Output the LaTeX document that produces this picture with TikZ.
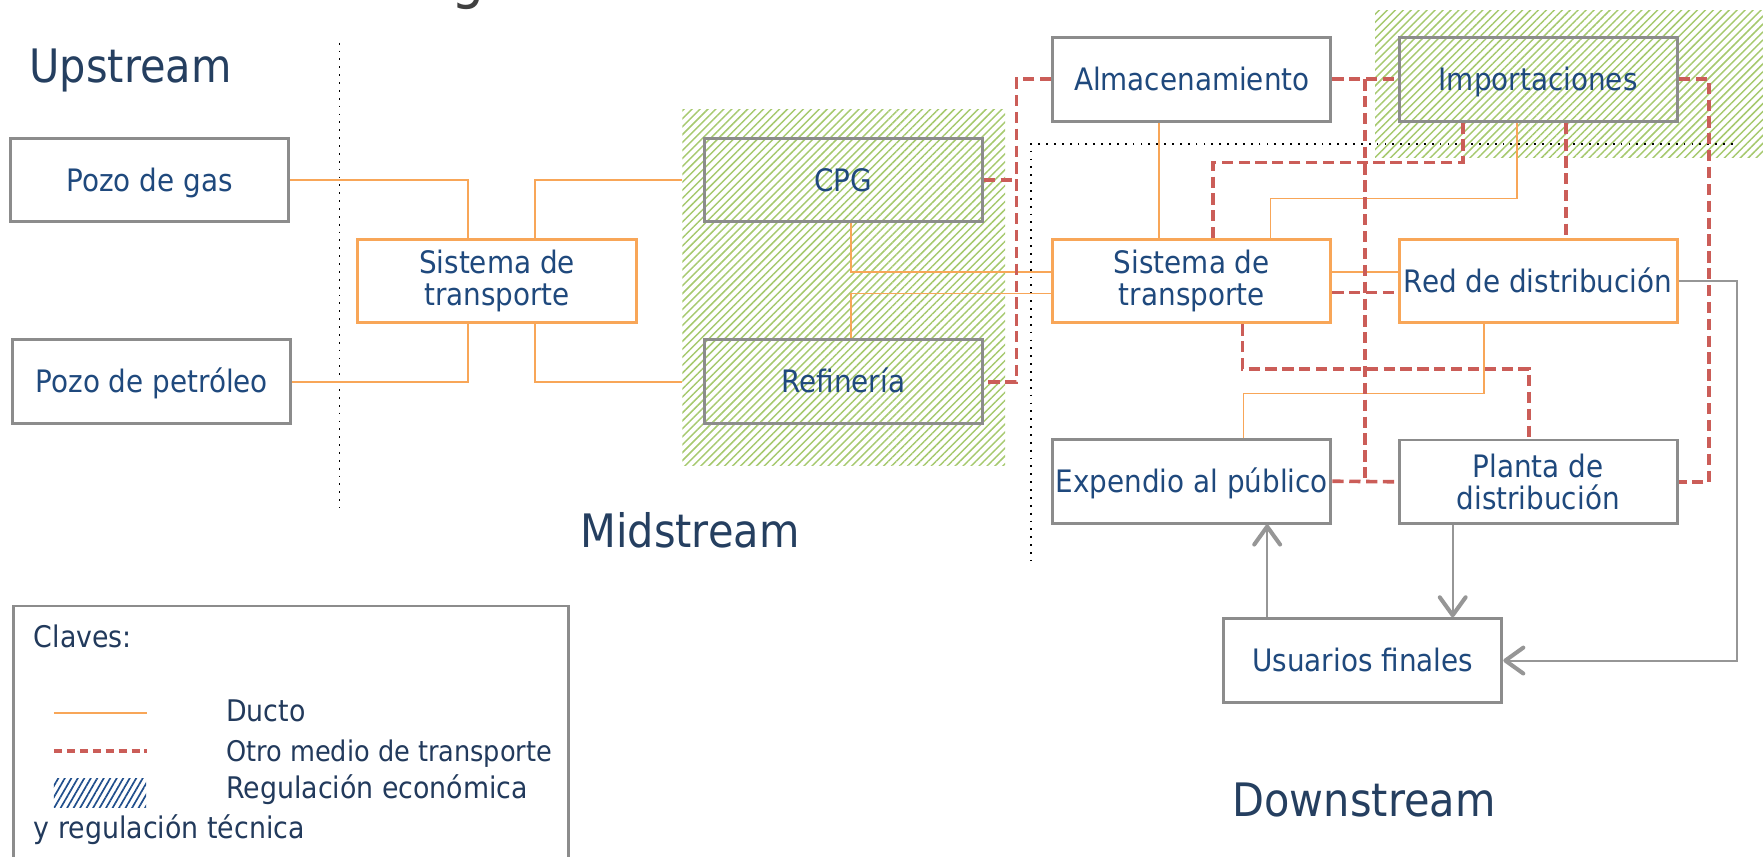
\documentclass[tikz,border=0pt]{standalone}
\usepackage{fontspec}
\setmainfont{DejaVu Sans}[FakeStretch=0.9]
\usetikzlibrary{arrows.meta,patterns.meta,calc}
\definecolor{boxgray}{RGB}{140,140,140}
\definecolor{lineorange}{RGB}{248,166,88}
\definecolor{dashred}{RGB}{203,93,88}
\definecolor{arrowgray}{RGB}{150,150,150}
\definecolor{boxtext}{RGB}{31,73,125}
\definecolor{titletext}{RGB}{37,63,96}
\definecolor{keytext}{RGB}{34,58,92}
\definecolor{hatchgreen}{RGB}{166,201,110}
\definecolor{hatchblue}{RGB}{31,78,140}
\definecolor{glyphgray}{RGB}{64,64,64}
\begin{document}
\begin{tikzpicture}[x=1pt,y=-1pt,
  box/.style={draw=boxgray,line width=2.6pt,minimum width=247.4pt,minimum height=74.4pt,inner sep=0pt,text=boxtext,font=\fontsize{27.5}{28.5}\selectfont,align=center},
  graybox/.style={box},
  orangebox/.style={box,draw=lineorange},
  oneline/.style={text height=20pt,text depth=0pt},
  duct/.style={draw=lineorange,line width=1.5pt},
  other/.style={draw=dashred,line width=3.2pt,dash pattern=on 10pt off 5pt},
  garrow/.style={draw=arrowgray,line width=1.8pt,-{Straight Barb[length=16pt,width=23pt,line width=3.6pt,round]}},
  divider/.style={draw=black,line width=1.6pt,dash pattern=on 1.6pt off 5.4pt},
  hatch/.style={pattern={Lines[angle=45,distance=5pt,line width=1.3pt]},pattern color=hatchgreen},
  title/.style={anchor=base west,inner sep=0pt,text=titletext,font=\fontsize{41}{45}\selectfont},
  key/.style={anchor=base west,inner sep=0pt,text=keytext,font=\fontsize{26.5}{30}\selectfont},
]
\useasboundingbox[fill=white] (0,0) rectangle (1568,762);

% hatched regions (economic and technical regulation)
\fill[white] (607,97) rectangle (894,414);
\path[hatch] (607,97) rectangle (894,414);
\path[hatch] (1223,9) rectangle (1580,140);

% partial title glyph cut by the top edge
\node[anchor=base,inner sep=0pt,text=glyphgray,font=\fontsize{52}{56}\selectfont] (gcut) at (416,-2) {g};

% section titles
\node[title] (tup) at (26,73) {Upstream};
\node[title] (tmid) at (516,487) {Midstream};
\node[title] (tdown) at (1096,726.6) {Downstream};

% boxes
\node[graybox,oneline] (pgas) at (133,160) {Pozo de gas};
\node[graybox,oneline] (ppet) at (135,339.5) {Pozo de petróleo};
\node[orangebox] (stm) at (442,250) {Sistema de\\transporte};
\node[graybox,oneline] (cpg) at (750,160) {CPG};
\node[graybox,oneline] (ref) at (750,339.5) {Refinería};
\node[graybox,oneline] (alm) at (1060,70.5) {Almacenamiento};
\node[graybox,oneline] (imp) at (1368,70.5) {Importaciones};
\node[orangebox] (std) at (1060,250) {Sistema de\\transporte};
\node[orangebox,oneline] (red) at (1368,250) {Red de distribución};
\node[graybox,oneline] (exp) at (1060,428) {Expendio al público};
\node[graybox] (pla) at (1368,428.5) {Planta de\\distribución};
\node[graybox,oneline] (usu) at (1212,587.5) {Usuarios finales};

% dividers
\draw[divider] (302,38) -- (302,452);
\draw[divider] (1541,128) -- (917,128) -- (917,499);

% ducts
\draw[duct] (pgas.east) -| ([xshift=-26pt]stm.north);
\draw[duct] (ppet.east) -| ([xshift=-26pt]stm.south);
\draw[duct] ([xshift=34pt]stm.north) |- ([xshift=-18pt]cpg.west);
\draw[duct] ([xshift=34pt]stm.south) |- ([xshift=-18pt]ref.west);
\draw[duct] ([xshift=7pt]cpg.south) |- ([yshift=8pt]std.west);
\draw[duct] ([xshift=7pt]ref.north) |- ([yshift=-11pt]std.west);
\draw[duct] ([xshift=-29pt]alm.south) -- ([xshift=-29pt]std.north);
\coordinate (k1) at ([xshift=70pt,yshift=35pt]std.north);
\draw[duct] ([xshift=-19pt]imp.south) |- (k1) -- ([xshift=70pt]std.north);
\draw[duct] ([yshift=8pt]std.east) -- ([yshift=8pt]red.west);
\coordinate (k2) at ([xshift=46pt,yshift=39.5pt]exp.north);
\draw[duct] ([xshift=-48pt]red.south) |- (k2) -- ([xshift=46pt]exp.north);

% other transport
\coordinate (busL) at ([xshift=29pt]cpg.east);
\draw[other] (alm.west) -| (busL) |- (ref.east);
\draw[other] (cpg.east) -- (busL);
\draw[other] (alm.east) -- (imp.west);
\coordinate (busM) at ($(alm.east)!0.5!(imp.west)$);
\draw[other] (busM) -- (busM |- exp.east);
\draw[other] (exp.east) -- (pla.west);
\coordinate (busR) at ([xshift=27pt]imp.east);
\draw[other] (imp.east) -- (busR) |- (pla.east);
\coordinate (k3) at ([xshift=19pt,yshift=67pt]std.north);
\draw[other] ([xshift=-67pt]imp.south) |- (k3) -- ([xshift=19pt]std.north);
\draw[other] ([xshift=25pt]imp.south) -- ([xshift=25pt]red.north);
\draw[other] ([yshift=-10pt]std.east) -- ([yshift=-10pt]red.west);
\coordinate (k4) at ([xshift=-8pt,yshift=62pt]pla.north);
\draw[other] ([xshift=45pt]std.south) |- (k4) -- ([xshift=-8pt]pla.north);

% gray arrows
\draw[garrow] ([xshift=80pt]usu.north |- pla.south) -- ([xshift=80pt]usu.north);
\draw[garrow] ([xshift=-85pt]usu.north) -- ([xshift=-85pt]usu.north |- exp.south);
\coordinate (gR) at ([xshift=52pt]red.east);
\draw[garrow] (red.east) -- (gR) |- (usu.east);

% legend
\draw[draw=boxgray,line width=2.6pt] (12,539) rectangle (506,790);
\node[key] (kclaves) at (30,576) {Claves:};
\draw[duct,line width=1.8pt] (48,634) -- (131,634);
\node[key] (kducto) at (201,642) {Ducto};
\draw[other,dash pattern=on 7.5pt off 4pt,line width=3.5pt] (48,668) -- (131,668);
\node[key,font=\fontsize{25.3}{30}\selectfont] (kotro) at (201,677.6) {Otro medio de transporte};
\path[pattern={Lines[angle=60,distance=5pt,line width=1.5pt]},pattern color=hatchblue] (48,692) rectangle (130,718);
\node[key] (kreg) at (201,710) {Regulación económica};
\node[key] (ky) at (30,745.6) {y regulación técnica};
\end{tikzpicture}
\end{document}
